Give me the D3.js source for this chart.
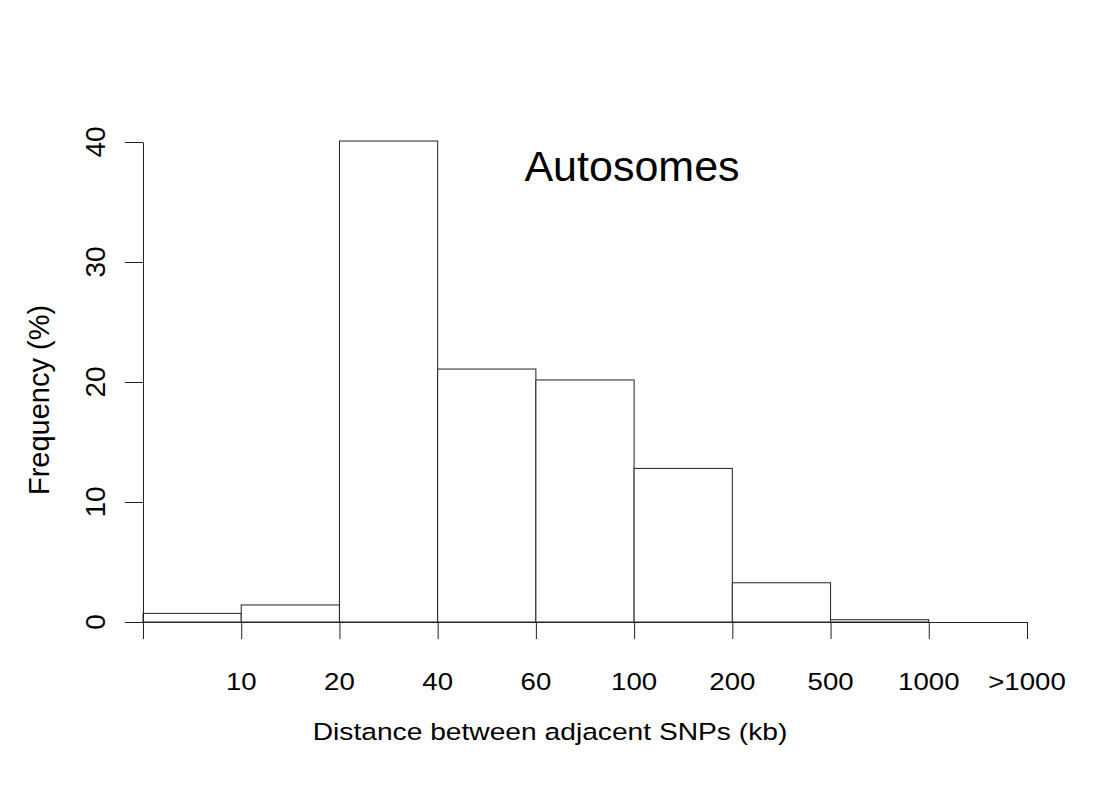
<!DOCTYPE html>
<html>
<head>
<meta charset="utf-8">
<script src="https://cdn.jsdelivr.net/npm/d3@7"></script>
<style>
  html, body { margin: 0; padding: 0; background: #fff; }
  svg { display: block; }
  text { font-family: "Liberation Sans", Arial, Helvetica, sans-serif; fill: #000; }
</style>
</head>
<body>
<svg id="chart" width="1100" height="800"></svg>
<script>
// ---- data ----
const binLabels = ["", "10", "20", "40", "60", "100", "200", "500", "1000", ">1000"];
const frequencies = [0.72, 1.42, 40.08, 21.08, 20.17, 12.8, 3.27, 0.19, 0.0];
const yTicks = [0, 10, 20, 30, 40];
const chartTitle = "Autosomes";
const xTitle = "Distance between adjacent SNPs (kb)";
const yTitle = "Frequency (%)";

// ---- layout ----
const svg = d3.select("#chart");
const x = d3.scaleLinear().domain([0, frequencies.length]).range([143, 1027]);
const y = d3.scaleLinear().domain([0, 40]).range([622, 142]);

// bars
svg.append("g").selectAll("rect")
  .data(frequencies)
  .join("rect")
  .attr("x", (d, i) => x(i))
  .attr("y", d => y(d))
  .attr("width", (d, i) => x(i + 1) - x(i))
  .attr("height", d => y(0) - y(d))
  .attr("fill", "#fff")
  .attr("stroke", "#222")
  .attr("stroke-width", 1);

// x axis
const xAxis = d3.axisBottom(x)
  .tickValues(d3.range(binLabels.length))
  .tickSize(17)
  .tickSizeOuter(0)
  .tickFormat("");
const gx = svg.append("g").attr("transform", `translate(0,${y(0)})`).call(xAxis);
gx.selectAll("path, line").attr("stroke", "#222");

svg.append("g").selectAll("g")
  .data(binLabels)
  .join("g")
  .attr("transform", (d, i) => `translate(${x(i)},689.5) scale(1.2,1)`)
  .append("text")
  .attr("text-anchor", "middle")
  .attr("font-size", 23)
  .text(d => d);

// y axis
const yAxis = d3.axisLeft(y)
  .tickValues(yTicks)
  .tickSize(18)
  .tickSizeOuter(0)
  .tickFormat("");
const gy = svg.append("g").attr("transform", `translate(${x(0)},0)`).call(yAxis);
gy.selectAll("path, line").attr("stroke", "#222");

svg.append("g").selectAll("text")
  .data(yTicks)
  .join("text")
  .attr("transform", d => `translate(105,${y(d)}) rotate(-90)`)
  .attr("text-anchor", "middle")
  .attr("font-size", 28)
  .text(d => d);

// titles
svg.append("text")
  .attr("x", 632).attr("y", 181)
  .attr("text-anchor", "middle")
  .attr("font-size", 43)
  .text(chartTitle);

svg.append("g")
  .attr("transform", "translate(550,739.5) scale(1.2,1)")
  .append("text")
  .attr("text-anchor", "middle")
  .attr("font-size", 23.5)
  .text(xTitle);

svg.append("text")
  .attr("transform", "translate(48.5,400) rotate(-90)")
  .attr("text-anchor", "middle")
  .attr("font-size", 29)
  .text(yTitle);
</script>
</body>
</html>
